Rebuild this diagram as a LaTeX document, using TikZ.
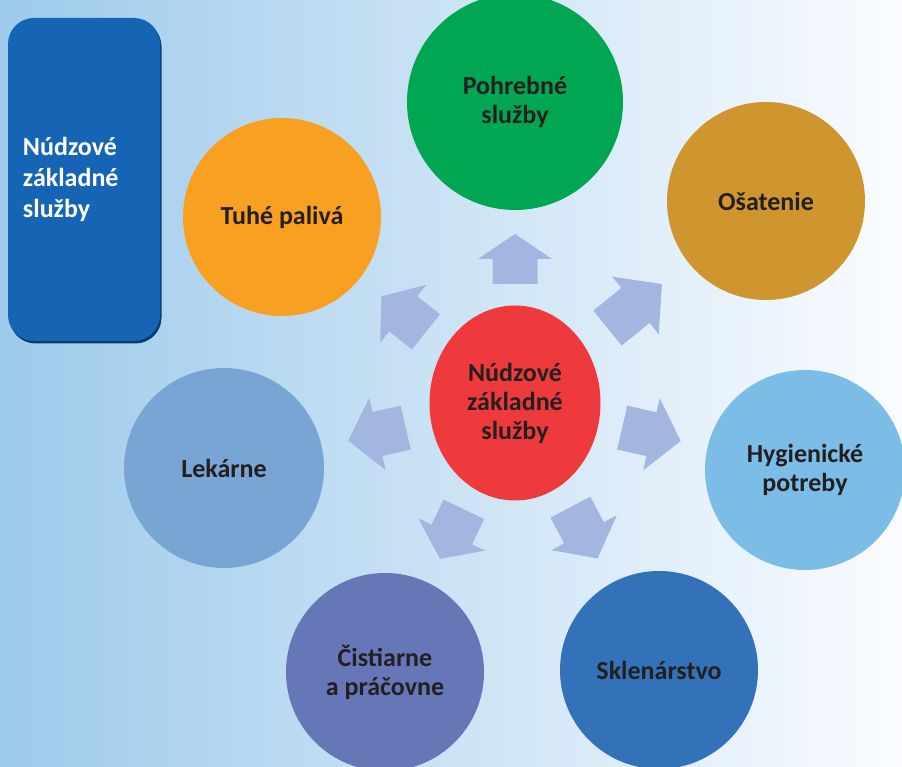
\documentclass[tikz,border=0pt]{standalone}
\usepackage{fontspec}
\setmainfont{Carlito}
\usepackage{tikz}
\usetikzlibrary{shapes.geometric,shadows}

\definecolor{bgleft}{HTML}{9DCAEB}
\definecolor{bgmid}{HTML}{E7F0FA}
\definecolor{bgright}{HTML}{FAFCFF}
\definecolor{boxblue}{HTML}{1565B4}
\definecolor{boxshadow}{HTML}{0B3B6C}
\definecolor{arrowblue}{HTML}{A2B6DF}
\definecolor{darktext}{HTML}{231F20}
\definecolor{redc}{HTML}{EF3A3D}
\definecolor{greenc}{HTML}{00A651}
\definecolor{orangec}{HTML}{F7A021}
\definecolor{goldc}{HTML}{CF952F}
\definecolor{skyc}{HTML}{7BBDE7}
\definecolor{bluec}{HTML}{3372B8}
\definecolor{purplec}{HTML}{6677B8}
\definecolor{steelc}{HTML}{79A5D4}

\tikzset{
    bubble/.style={circle, fill=#1, minimum size=198pt, inner sep=0pt, align=center,
        text=darktext, font=\bfseries\fontsize{26}{29}\selectfont},
    arrowpart/.style={fill=arrowblue},
}

\begin{document}
\begin{tikzpicture}[x=1pt, y=1pt]
    \useasboundingbox (0,0) rectangle (902,767);
    \shade[left color=bgleft, middle color=bgmid, right color=bgright] (0,0) rectangle (902,767);

    % Side box
    \node[fill=boxblue, rounded corners=26pt, minimum width=152pt, minimum height=323pt,
        text width=122pt, inner xsep=15pt, align=left, text=white,
        font=\bfseries\fontsize{26}{31}\selectfont,
        drop shadow={shadow xshift=1.5pt, shadow yshift=-2.5pt, fill=boxshadow, opacity=1}]
        (sidebox) at (84,587.5) {Núdzové\\základné\\služby};

    % Centre
    \node[ellipse, fill=redc, minimum width=171pt, minimum height=195pt, inner sep=0pt,
        align=center, text=darktext, font=\bfseries\fontsize{26}{29}\selectfont]
        (stred) at (515,364) {Núdzové\\základné\\služby};

    % Services around
    \node[bubble=greenc, minimum size=216pt] (pohreb) at (515,665) {Pohrebné\\služby};
    \node[bubble=goldc] (osatenie) at (766,566) {Ošatenie};
    \node[bubble=skyc, minimum size=200pt] (hygiena) at (805,297) {Hygienické\\potreby};
    \node[bubble=bluec] (sklo) at (659,97) {Sklenárstvo};
    \node[bubble=purplec] (cistiarne) at (385,95) {Čistiarne\\a práčovne};
    \node[bubble=steelc, minimum size=200pt] (lekarne) at (224,299) {Lekárne};
    \node[bubble=orangec] (palivo) at (282,550) {Tuhé palivá};

    % Arrows
    \fill[arrowpart, shift={(stred.center)}, rotate=90] (119,-22.5) -- (144,-22.5) -- (144,-37) -- (169,0) -- (144,37) -- (144,22.5) -- (119,22.5) -- cycle;
    \fill[arrowpart, shift={(stred.center)}, rotate=39] (119,-22.5) -- (155,-22.5) -- (155,-37) -- (189,0) -- (155,37) -- (155,22.5) -- (119,22.5) -- cycle;
    \fill[arrowpart, shift={(stred.center)}, rotate=-12.9] (110,-22.5) -- (140,-22.5) -- (140,-37) -- (170,0) -- (140,37) -- (140,22.5) -- (110,22.5) -- cycle;
    \fill[arrowpart, shift={(stred.center)}, rotate=-62] (118,-22.5) -- (147,-22.5) -- (147,-37) -- (176,0) -- (147,37) -- (147,22.5) -- (118,22.5) -- cycle;
    \fill[arrowpart, shift={(stred.center)}, rotate=-115.7] (118,-22.5) -- (146,-22.5) -- (146,-37) -- (173,0) -- (146,37) -- (146,22.5) -- (118,22.5) -- cycle;
    \fill[arrowpart, shift={(stred.center)}, rotate=-167.3] (112,-22.5) -- (141,-22.5) -- (141,-37) -- (171,0) -- (141,37) -- (141,22.5) -- (112,22.5) -- cycle;
    \fill[arrowpart, shift={(stred.center)}, rotate=141.4] (114,-22.5) -- (143,-22.5) -- (143,-37) -- (171,0) -- (143,37) -- (143,22.5) -- (114,22.5) -- cycle;
\end{tikzpicture}
\end{document}
